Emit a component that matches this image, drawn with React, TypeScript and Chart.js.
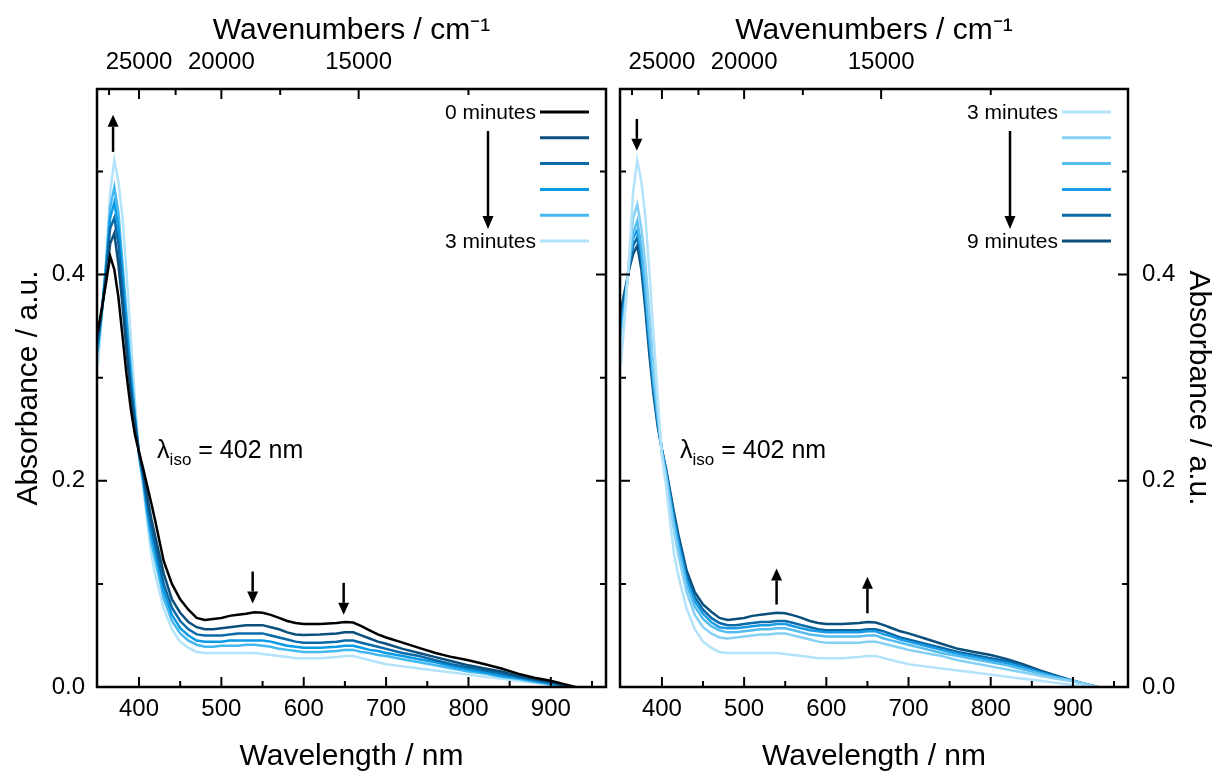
import { useEffect, useRef } from 'react';
import { Chart, registerables } from 'chart.js';

Chart.register(...registerables);
Chart.defaults.font.family = '"Liberation Sans", Arial, sans-serif';
Chart.defaults.color = '#000';

// длины волн, нм
const WAVELENGTHS = [
  350, 355, 360, 365, 370, 375, 380, 385, 390, 395,
  400, 405, 410, 415, 420, 430, 440, 450, 460, 470,
  480, 490, 500, 510, 520, 530, 540, 550, 560, 570,
  580, 590, 600, 620, 640, 650, 660, 670, 680, 690,
  700, 720, 740, 760, 780, 800, 820, 840, 860, 880,
  900, 915, 930,
];

// левая панель: 0 -> 3 минуты
const ABS_0MIN = [
  0.345, 0.368, 0.392, 0.418, 0.405, 0.378, 0.340, 0.302, 0.270, 0.245,
  0.228, 0.212, 0.195, 0.178, 0.160, 0.122, 0.100, 0.085, 0.075, 0.067,
  0.065, 0.066, 0.067, 0.069, 0.070, 0.071, 0.0725, 0.072, 0.070, 0.067,
  0.064, 0.062, 0.061, 0.061, 0.062, 0.063, 0.0625, 0.059, 0.055, 0.051,
  0.048, 0.043, 0.038, 0.033, 0.029, 0.026, 0.022, 0.018, 0.013, 0.009,
  0.006, 0.003, 0.000,
];
const ABS_L1 = [
  0.340, 0.366, 0.398, 0.430, 0.440, 0.410, 0.370, 0.325, 0.285, 0.255,
  0.228, 0.208, 0.185, 0.163, 0.145, 0.110, 0.085, 0.072, 0.063, 0.058,
  0.056, 0.056, 0.057, 0.058, 0.059, 0.060, 0.060, 0.060, 0.058, 0.056,
  0.053, 0.051, 0.0505, 0.051, 0.052, 0.053, 0.053, 0.050, 0.047, 0.044,
  0.042, 0.037, 0.033, 0.029, 0.025, 0.021, 0.018, 0.015, 0.011, 0.008,
  0.005, 0.002, -0.001,
];
const ABS_L2 = [
  0.335, 0.366, 0.402, 0.445, 0.455, 0.430, 0.385, 0.335, 0.290, 0.258,
  0.227, 0.205, 0.178, 0.155, 0.137, 0.100, 0.077, 0.064, 0.056, 0.051,
  0.050, 0.050, 0.050, 0.051, 0.052, 0.052, 0.052, 0.052, 0.050, 0.048,
  0.046, 0.044, 0.043, 0.043, 0.044, 0.045, 0.045, 0.043, 0.041, 0.039,
  0.037, 0.033, 0.030, 0.026, 0.022, 0.019, 0.016, 0.013, 0.010, 0.007,
  0.004, 0.002, -0.001,
];
const ABS_L3 = [
  0.330, 0.366, 0.406, 0.455, 0.470, 0.445, 0.400, 0.350, 0.300, 0.262,
  0.226, 0.202, 0.172, 0.148, 0.130, 0.093, 0.070, 0.057, 0.050, 0.045,
  0.044, 0.044, 0.044, 0.045, 0.045, 0.045, 0.045, 0.045, 0.044, 0.042,
  0.040, 0.039, 0.038, 0.038, 0.039, 0.040, 0.040, 0.038, 0.036, 0.035,
  0.033, 0.030, 0.027, 0.024, 0.020, 0.017, 0.014, 0.011, 0.009, 0.006,
  0.003, 0.001, -0.001,
];
const ABS_L4 = [
  0.325, 0.365, 0.410, 0.465, 0.485, 0.460, 0.410, 0.360, 0.310, 0.266,
  0.225, 0.199, 0.167, 0.140, 0.122, 0.086, 0.064, 0.052, 0.045, 0.041,
  0.039, 0.039, 0.040, 0.040, 0.040, 0.041, 0.041, 0.040, 0.039, 0.037,
  0.036, 0.035, 0.034, 0.034, 0.035, 0.036, 0.036, 0.034, 0.033, 0.031,
  0.030, 0.027, 0.024, 0.021, 0.018, 0.015, 0.013, 0.010, 0.008, 0.005,
  0.003, 0.001, -0.001,
];
// 3 минуты — общий для обеих панелей
const ABS_3MIN = [
  0.312, 0.360, 0.415, 0.480, 0.511, 0.490, 0.455, 0.400, 0.340, 0.280,
  0.224, 0.195, 0.160, 0.128, 0.108, 0.076, 0.056, 0.044, 0.038, 0.034,
  0.033, 0.033, 0.033, 0.033, 0.033, 0.033, 0.033, 0.032, 0.031, 0.030,
  0.029, 0.028, 0.028, 0.028, 0.029, 0.030, 0.030, 0.028, 0.026, 0.024,
  0.022, 0.020, 0.018, 0.016, 0.014, 0.012, 0.010, 0.008, 0.006, 0.004,
  0.002, 0.001, -0.001,
];
// правая панель: 3 -> 9 минут
const ABS_R1 = [
  0.325, 0.365, 0.415, 0.455, 0.468, 0.445, 0.410, 0.360, 0.310, 0.268,
  0.226, 0.203, 0.175, 0.150, 0.128, 0.092, 0.070, 0.058, 0.052, 0.048,
  0.047, 0.048, 0.049, 0.050, 0.051, 0.051, 0.052, 0.052, 0.050, 0.048,
  0.046, 0.044, 0.043, 0.043, 0.043, 0.044, 0.044, 0.042, 0.040, 0.038,
  0.036, 0.033, 0.030, 0.026, 0.023, 0.020, 0.017, 0.014, 0.011, 0.008,
  0.0055, 0.003, 0.000,
];
const ABS_R2 = [
  0.335, 0.370, 0.410, 0.440, 0.452, 0.428, 0.388, 0.340, 0.297, 0.262,
  0.228, 0.206, 0.180, 0.156, 0.135, 0.099, 0.078, 0.066, 0.059, 0.055,
  0.053, 0.053, 0.054, 0.055, 0.056, 0.056, 0.057, 0.057, 0.055, 0.053,
  0.051, 0.050, 0.049, 0.049, 0.049, 0.050, 0.050, 0.047, 0.045, 0.043,
  0.041, 0.037, 0.033, 0.030, 0.027, 0.024, 0.021, 0.017, 0.013, 0.009,
  0.006, 0.003, 0.000,
];
const ABS_R3 = [
  0.345, 0.375, 0.410, 0.435, 0.443, 0.420, 0.380, 0.333, 0.292, 0.258,
  0.229, 0.208, 0.184, 0.160, 0.140, 0.104, 0.083, 0.071, 0.063, 0.058,
  0.057, 0.057, 0.058, 0.059, 0.060, 0.060, 0.061, 0.061, 0.059, 0.057,
  0.055, 0.054, 0.053, 0.053, 0.053, 0.054, 0.054, 0.051, 0.049, 0.046,
  0.044, 0.040, 0.036, 0.032, 0.029, 0.026, 0.023, 0.019, 0.014, 0.010,
  0.006, 0.003, 0.000,
];
const ABS_R4 = [
  0.355, 0.380, 0.405, 0.428, 0.436, 0.413, 0.372, 0.327, 0.287, 0.255,
  0.230, 0.210, 0.187, 0.164, 0.144, 0.108, 0.087, 0.075, 0.067, 0.062,
  0.060, 0.060, 0.061, 0.062, 0.063, 0.063, 0.064, 0.064, 0.062, 0.060,
  0.058, 0.056, 0.055, 0.055, 0.055, 0.056, 0.056, 0.054, 0.051, 0.048,
  0.046, 0.042, 0.038, 0.034, 0.031, 0.028, 0.025, 0.020, 0.015, 0.010,
  0.006, 0.003, 0.000,
];
const ABS_9MIN = [
  0.365, 0.385, 0.405, 0.420, 0.428, 0.405, 0.365, 0.320, 0.282, 0.252,
  0.230, 0.212, 0.190, 0.168, 0.148, 0.113, 0.092, 0.080, 0.073, 0.067,
  0.065, 0.066, 0.067, 0.069, 0.070, 0.071, 0.072, 0.0715, 0.0695, 0.067,
  0.064, 0.062, 0.061, 0.061, 0.062, 0.063, 0.0625, 0.060, 0.057, 0.054,
  0.052, 0.047, 0.042, 0.037, 0.034, 0.031, 0.027, 0.022, 0.016, 0.011,
  0.006, 0.003, 0.000,
];

const LEFT_SERIES = [ABS_0MIN, ABS_L1, ABS_L2, ABS_L3, ABS_L4, ABS_3MIN];
const LEFT_COLORS = ['#000000', '#0b4f7c', '#0a6aa8', '#0a9ae6', '#44b8f0', '#b3e3fa'];
const LEFT_LABELS = ['0 minutes', '3 minutes'];

const RIGHT_SERIES = [ABS_3MIN, ABS_R1, ABS_R2, ABS_R3, ABS_R4, ABS_9MIN];
const RIGHT_COLORS = ['#b3e3fa', '#86d0f5', '#55bcf0', '#1a9be6', '#0a6aa8', '#0b4f7c'];
const RIGHT_LABELS = ['3 minutes', '9 minutes'];

// оси
const X_MIN = 349;
const X_MAX = 967;
const X_TICKS = [400, 500, 600, 700, 800, 900];
const X_MINOR = [450, 550, 650, 750, 850, 950];
const WAVENUMBER_TICKS = [25000, 20000, 15000];
const WAVENUMBER_MINOR = [27500, 22500, 17500, 12500];
const Y_MIN = 0;
const Y_MAX = 0.58;
const Y_TICKS = [0, 0.2, 0.4];
const Y_MINOR = [0.1, 0.3, 0.5];

// стрелки: x в нм, y от/до в единицах поглощения
const LEFT_ARROWS = [
  { x: 368.5, from: 0.519, to: 0.555 },
  { x: 538, from: 0.112, to: 0.081 },
  { x: 648.5, from: 0.101, to: 0.07 },
];
const RIGHT_ARROWS = [
  { x: 369.5, from: 0.551, to: 0.52 },
  { x: 539.5, from: 0.08, to: 0.115 },
  { x: 650, from: 0.0715, to: 0.107 },
];
const ISO_LABEL = { x: 422, y: 0.2223 };

const drawArrow = (ctx: CanvasRenderingContext2D, x: number, y0: number, y1: number, head = 12) => {
  const dir = Math.sign(y1 - y0);
  ctx.beginPath();
  ctx.moveTo(x, y0);
  ctx.lineTo(x, y1 - dir * head);
  ctx.stroke();
  ctx.beginPath();
  ctx.moveTo(x, y1);
  ctx.lineTo(x - 5.5, y1 - dir * head);
  ctx.lineTo(x + 5.5, y1 - dir * head);
  ctx.closePath();
  ctx.fill();
};

const decorPlugin = {
  id: 'decor',
  afterDatasetsDraw(chart: any, _args: any, opts: any) {
    const { ctx, chartArea: a, scales } = chart;
    const xs = scales.x;
    const ys = scales.y;
    ctx.save();
    ctx.strokeStyle = '#000';
    ctx.fillStyle = '#000';

    // рамка
    ctx.lineWidth = 2.5;
    ctx.strokeRect(a.left, a.top, a.right - a.left, a.bottom - a.top);

    // засечки внутрь
    ctx.lineWidth = 2;
    const vTick = (v: number, len: number) => {
      const p = xs.getPixelForValue(v);
      ctx.beginPath();
      ctx.moveTo(p, a.bottom);
      ctx.lineTo(p, a.bottom - len);
      ctx.stroke();
    };
    const topTick = (w: number, len: number) => {
      const p = xs.getPixelForValue(1e7 / w);
      ctx.beginPath();
      ctx.moveTo(p, a.top);
      ctx.lineTo(p, a.top + len);
      ctx.stroke();
    };
    const hTick = (v: number, len: number) => {
      const p = ys.getPixelForValue(v);
      ctx.beginPath();
      ctx.moveTo(a.left, p);
      ctx.lineTo(a.left + len, p);
      ctx.moveTo(a.right, p);
      ctx.lineTo(a.right - len, p);
      ctx.stroke();
    };
    X_TICKS.forEach(v => vTick(v, 10));
    X_MINOR.forEach(v => vTick(v, 6));
    WAVENUMBER_TICKS.forEach(w => topTick(w, 10));
    WAVENUMBER_MINOR.forEach(w => topTick(w, 6));
    Y_TICKS.forEach(v => hTick(v, 10));
    Y_MINOR.forEach(v => hTick(v, 6));

    // стрелки на спектрах
    ctx.lineWidth = 2.5;
    opts.arrows.forEach((ar: { x: number; from: number; to: number }) => {
      drawArrow(ctx, xs.getPixelForValue(ar.x), ys.getPixelForValue(ar.from), ys.getPixelForValue(ar.to));
    });

    // легенда
    const colors: string[] = opts.colors;
    ctx.font = '21px "Liberation Sans", Arial, sans-serif';
    ctx.textAlign = 'right';
    ctx.textBaseline = 'middle';
    colors.forEach((c, i) => {
      const y = a.top + 23 + 25.8 * i;
      ctx.strokeStyle = c;
      ctx.lineWidth = 3;
      ctx.beginPath();
      ctx.moveTo(a.right - 66, y);
      ctx.lineTo(a.right - 17, y);
      ctx.stroke();
    });
    ctx.fillText(opts.labels[0], a.right - 70, a.top + 24);
    ctx.fillText(opts.labels[1], a.right - 70, a.top + 24 + 25.8 * 5);
    ctx.strokeStyle = '#000';
    ctx.lineWidth = 2.5;
    drawArrow(ctx, a.right - 118, a.top + 42, a.top + 140, 13);

    // λiso
    const lx = xs.getPixelForValue(ISO_LABEL.x);
    const ly = ys.getPixelForValue(ISO_LABEL.y);
    ctx.textAlign = 'left';
    ctx.textBaseline = 'alphabetic';
    ctx.font = '25px "Liberation Sans", Arial, sans-serif';
    ctx.fillText('λ', lx, ly);
    let cx = lx + ctx.measureText('λ').width;
    ctx.font = '17px "Liberation Sans", Arial, sans-serif';
    ctx.fillText('iso', cx, ly + 7);
    cx += ctx.measureText('iso').width;
    ctx.font = '25px "Liberation Sans", Arial, sans-serif';
    ctx.fillText(' = 402 nm', cx, ly);

    ctx.restore();
  },
};

type PanelProps = {
  side: 'left' | 'right';
  series: number[][];
  colors: string[];
  labels: string[];
  arrows: { x: number; from: number; to: number }[];
};

function SpectraPanel({ side, series, colors, labels, arrows }: PanelProps) {
  const canvasRef = useRef<HTMLCanvasElement>(null);

  useEffect(() => {
    if (!canvasRef.current) return;
    const isLeft = side === 'left';
    const chart = new Chart(canvasRef.current, {
      type: 'line',
      data: {
        datasets: series.map((s, i) => ({
          data: WAVELENGTHS.map((w, j) => ({ x: w, y: s[j] })),
          borderColor: colors[i],
          borderWidth: 2.5,
          pointRadius: 0,
          tension: 0,
          fill: false,
        })),
      },
      options: {
        animation: false,
        responsive: true,
        maintainAspectRatio: false,
        events: [],
        layout: {
          autoPadding: false,
          padding: isLeft ? { left: 0, right: 7, top: 0, bottom: 0 } : { left: 7, right: 0, top: 0, bottom: 0 },
        },
        plugins: {
          legend: { display: false },
          tooltip: { enabled: false },
          decor: { arrows, colors, labels },
        } as any,
        scales: {
          x: {
            type: 'linear',
            position: 'bottom',
            min: X_MIN,
            max: X_MAX,
            afterBuildTicks: (s: any) => {
              s.ticks = X_TICKS.map(v => ({ value: v }));
            },
            afterFit: (s: any) => {
              s.height = 86;
            },
            ticks: { padding: 8, font: { size: 24 }, maxRotation: 0, autoSkip: false },
            grid: { display: false, drawTicks: false },
            border: { display: false },
            title: {
              display: true,
              text: 'Wavelength / nm',
              font: { size: 30, lineHeight: 1 },
              padding: { top: 0, bottom: 1 },
            },
          },
          x2: {
            type: 'linear',
            position: 'top',
            min: X_MIN,
            max: X_MAX,
            afterBuildTicks: (s: any) => {
              s.ticks = WAVENUMBER_TICKS.map(w => ({ value: 1e7 / w }));
            },
            afterFit: (s: any) => {
              s.height = 89;
            },
            ticks: {
              padding: 12,
              font: { size: 24 },
              maxRotation: 0,
              autoSkip: false,
              callback: (_v: any, i: number) => String(WAVENUMBER_TICKS[i]),
            },
            grid: { display: false, drawTicks: false },
            border: { display: false },
            title: {
              display: true,
              text: 'Wavenumbers / cm⁻¹',
              font: { size: 30, lineHeight: 1 },
              padding: { top: 16, bottom: 0 },
            },
          },
          y: {
            type: 'linear',
            position: side,
            min: Y_MIN,
            max: Y_MAX,
            afterBuildTicks: (s: any) => {
              s.ticks = Y_TICKS.map(v => ({ value: v }));
            },
            afterFit: (s: any) => {
              s.width = isLeft ? 97 : 85;
            },
            ticks: {
              padding: isLeft ? 12 : 14,
              font: { size: 24 },
              callback: (v: any) => Number(v).toFixed(1),
            },
            grid: { display: false, drawTicks: false },
            border: { display: false },
            title: {
              display: true,
              text: 'Absorbance / a.u.',
              font: { size: 30, lineHeight: 1 },
              padding: { top: isLeft ? 14 : 0, bottom: 0 },
            },
          },
        },
      } as any,
      plugins: [decorPlugin],
    });
    return () => chart.destroy();
  }, [side, series, colors, labels, arrows]);

  return <canvas ref={canvasRef} />;
}

export default function App() {
  return (
    <div style={{ position: 'fixed', left: 0, top: 0, width: 1213, height: 773, background: '#fff' }}>
      <div style={{ position: 'absolute', left: 0, top: 0, width: 613, height: 773 }}>
        <SpectraPanel side="left" series={LEFT_SERIES} colors={LEFT_COLORS} labels={LEFT_LABELS} arrows={LEFT_ARROWS} />
      </div>
      <div style={{ position: 'absolute', left: 613, top: 0, width: 600, height: 773 }}>
        <SpectraPanel side="right" series={RIGHT_SERIES} colors={RIGHT_COLORS} labels={RIGHT_LABELS} arrows={RIGHT_ARROWS} />
      </div>
    </div>
  );
}
